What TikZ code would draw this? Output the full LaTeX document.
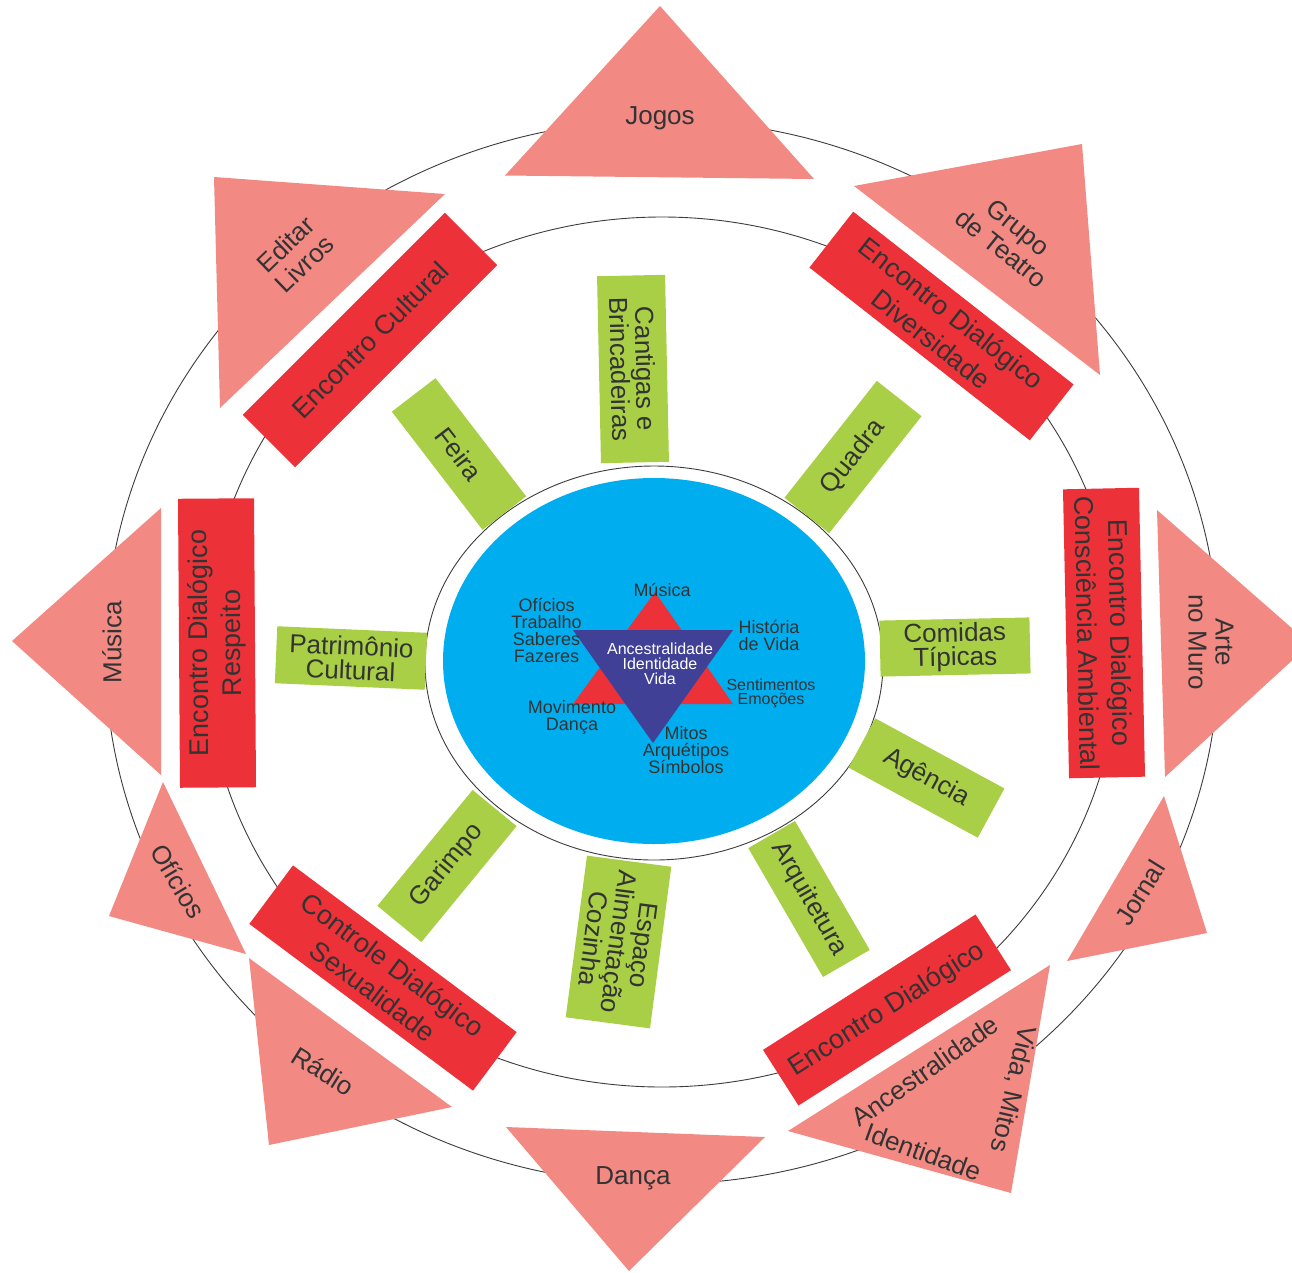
\documentclass[tikz,border=0pt]{standalone}
\usepackage{fontspec}
\setmainfont{Liberation Sans}
\usepackage{xcolor}
\usepackage{tikz}
\definecolor{ring_gray}{RGB}{60,60,60}
\definecolor{label_gray}{RGB}{51,51,51}
\definecolor{leaf_green}{RGB}{168,207,69}
\definecolor{enc_red}{RGB}{236,50,56}
\definecolor{soft_pink}{RGB}{242,137,131}
\definecolor{core_blue}{RGB}{0,174,239}
\definecolor{core_navy}{RGB}{64,64,150}
\newcommand{\fsz}[2]{\fontsize{#1}{#2}\selectfont}

\begin{document}
\begin{tikzpicture}[x=1pt, y=-1pt,
    ring/.style={draw=ring_gray, line width=0.9pt},
    themebox/.style={fill=leaf_green, text=label_gray, align=center,
      inner sep=0pt, font=\fsz{26}{24}},
    meetbox/.style={fill=enc_red, text=label_gray, align=center,
      inner sep=0pt, font=\fsz{27}{33}},
    flag/.style={fill=soft_pink},
    flaglabel/.style={text=label_gray, align=center, inner sep=0pt,
      font=\fsz{26}{27}},
    corelabel/.style={text=label_gray, align=center, inner sep=0pt,
      font=\fsz{18}{17}}]
  \useasboundingbox[fill=white] (0,0) rectangle (1292,1272);
  % Rings
  \draw[ring] (662,652) ellipse [x radius=557pt, y radius=532pt];
  \draw[ring] (662,652) ellipse [x radius=457pt, y radius=435pt];
  \draw[ring] (654,663) ellipse [x radius=229pt, y radius=197pt];
  % Core
  \fill[core_blue] (654,661) ellipse [x radius=211pt, y radius=183pt];
  \fill[enc_red] (655,592) -- (733,704) -- (573,704) -- cycle;
  \fill[core_navy] (573,630) -- (733,630) -- (653,743) -- cycle;
  \node[corelabel] (musicacore) at (662,590) {Música};
  \node[corelabel] (oficioscore) at (546.5,630.5)
    {Ofícios\\Trabalho\\Saberes\\Fazeres};
  \node[corelabel] (historia) at (769,635) {História\\de Vida};
  \node[corelabel, text=white, font=\fsz{16}{15}] (ancestralcore)
    at (660,664) {Ancestralidade\\Identidade\\Vida};
  \node[corelabel, font=\fsz{16}{14}] (sentimentos) at (771,693)
    {Sentimentos\\Emoções};
  \node[corelabel] (movimento) at (572,717) {Movimento\\Dança};
  \node[corelabel] (mitos) at (686,750.5) {Mitos\\Arquétipos\\Símbolos};
  % Inner themes
  \node[themebox, minimum width=187pt, minimum height=68pt, rotate=-88.8]
    (cantigas) at (633,369) {Cantigas e\\Brincadeiras};
  \node[themebox, minimum width=149pt, minimum height=55pt, rotate=-52.5]
    (feira) at (459,454) {Feira};
  \node[themebox, minimum width=149pt, minimum height=57pt, rotate=51.7]
    (quadra) at (853,457) {Quadra};
  \node[themebox, minimum width=150pt, minimum height=56pt, rotate=1.2]
    (comidas) at (955,647) {Comidas\\Típicas};
  \node[themebox, minimum width=150pt, minimum height=57pt, rotate=-2.5]
    (patrimonio) at (351,658) {Patrimônio\\Cultural};
  \node[themebox, minimum width=147pt, minimum height=56pt, rotate=-28.5]
    (agencia) at (926.5,778) {Agência};
  \node[themebox, minimum width=149pt, minimum height=54pt, rotate=-59.9]
    (arquitetura) at (809,899) {Arquitetura};
  \node[themebox, minimum width=163pt, minimum height=85pt, rotate=-97.5]
    (espaco) at (618.5,942) {Espaço\\Alimentação\\Cozinha};
  \node[themebox, minimum width=150pt, minimum height=57pt, rotate=50.6]
    (garimpo) at (447,866) {Garimpo};
  % Meetings
  \node[meetbox, minimum width=286pt, minimum height=74pt, rotate=45]
    (cultural) at (370,340) {Encontro Cultural};
  \node[meetbox, minimum width=280pt, minimum height=71pt, rotate=-38.1]
    (diversidade) at (941.5,326) {Encontro Dialógico\\Diversidade};
  \node[meetbox, minimum width=289pt, minimum height=76pt, rotate=-88.8]
    (ambiental) at (1104,633) {Encontro Dialógico\\Consciência Ambiental};
  \node[meetbox, minimum width=289pt, minimum height=76pt, rotate=90.4]
    (respeito) at (217,643) {Encontro Dialógico\\Respeito};
  \node[meetbox, minimum width=279pt, minimum height=73pt, rotate=-36.7]
    (sexualidade) at (383,978) {Controle Dialógico\\Sexualidade};
  \node[meetbox, minimum width=252pt, minimum height=66pt, rotate=32.5]
    (dialogico) at (887,1010) {Encontro Dialógico};
  % Outer flags
  \fill[flag] (660,6) -- (814,179) -- (505,175.5) -- cycle;
  \node[flaglabel] (jogos) at (660,118) {Jogos};
  \fill[flag] (854,186) -- (1082,144) -- (1100,375) -- cycle;
  \node[flaglabel, rotate=-38.7] (teatro) at (1010,238) {Grupo\\de Teatro};
  \fill[flag] (214,177) -- (445,194) -- (220,408) -- cycle;
  \node[flaglabel, rotate=44] (livros) at (295,254) {Editar\\Livros};
  \fill[flag] (161,508) -- (12,641) -- (161,775) -- cycle;
  \node[flaglabel, rotate=90] (musica) at (112,642) {Música};
  \fill[flag] (1157,510) -- (1310,644) -- (1165,777) -- cycle;
  \node[flaglabel, rotate=-90] (muro) at (1211,642) {Arte\\no Muro};
  \fill[flag] (163,782) -- (109,916) -- (246,954) -- cycle;
  \node[flaglabel, rotate=-59] (oficios) at (178,881) {Ofícios};
  \fill[flag] (249,958) -- (452,1107) -- (269,1145) -- cycle;
  \node[flaglabel, rotate=-32] (radio) at (323,1071) {Rádio};
  \fill[flag] (1164,796) -- (1207,933) -- (1067,961) -- cycle;
  \node[flaglabel, rotate=58] (jornal) at (1140,893) {Jornal};
  \fill[flag] (1050,965) -- (788,1131) -- (1011,1193) -- cycle;
  \node[flaglabel, rotate=35] (ancestral) at (925,1071) {Ancestralidade};
  \node[flaglabel, rotate=-103] (vidamitos) at (1013,1089) {Vida, Mitos};
  \node[flaglabel, rotate=-20] (identidade) at (923,1152) {Identidade};
  \fill[flag] (506,1127) -- (765,1137) -- (629,1271) -- cycle;
  \node[flaglabel] (danca) at (633,1178) {Dança};
\end{tikzpicture}
\end{document}
